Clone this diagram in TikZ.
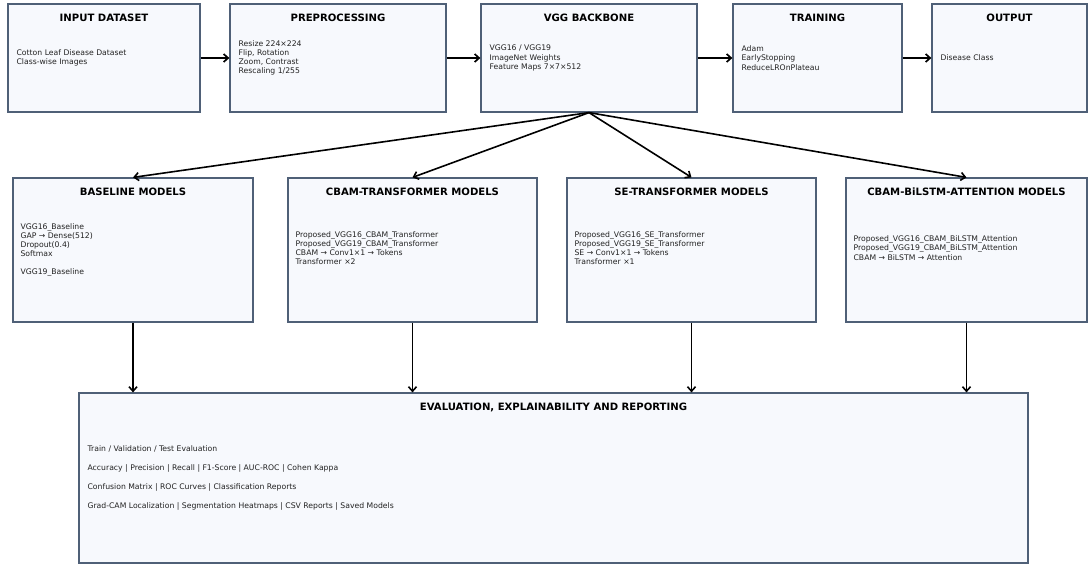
\documentclass[tikz,border=0pt]{standalone}
\usepackage{fontspec}
\setmainfont{DejaVu Sans}
\usetikzlibrary{arrows.meta}
\definecolor{boxfill}{HTML}{F7F9FD}
\definecolor{boxdraw}{HTML}{4F6077}
\definecolor{txt}{HTML}{222222}
\tikzset{
  box/.style={draw=boxdraw, fill=boxfill, line width=1.2pt, rectangle, inner sep=0pt},
  ttl/.style={font=\bfseries\fontsize{10.1}{12}\selectfont, text=black, inner sep=0pt},
  body/.style={font=\fontsize{7.7}{9.2}\selectfont, text=txt, align=left, anchor=west, inner sep=0pt},
  arr/.style={-{Straight Barb[length=4.5pt,width=8pt]}, line width=1.7pt, black},
  farr/.style={-{Straight Barb[length=4.5pt,width=8pt]}, line width=1.6pt, black},
  varr/.style={-{Straight Barb[length=4.5pt,width=8pt]}, line width=1.6pt, black}
}
\begin{document}
\begin{tikzpicture}[x=1pt,y=-1pt]
\useasboundingbox (0,0) rectangle (1089,565);
% top row
\node[box, minimum width=192pt, minimum height=108pt] (in) at (104,58) {};
\node[box, minimum width=216pt, minimum height=108pt] (pre) at (338,58) {};
\node[box, minimum width=216pt, minimum height=108pt] (vgg) at (589,58) {};
\node[box, minimum width=169pt, minimum height=108pt] (tr) at (817.5,58) {};
\node[box, minimum width=155pt, minimum height=108pt] (out) at (1009.5,58) {};
\node[ttl] (inT) at ([yshift=-14pt]in.north) {INPUT DATASET};
\node[ttl] (preT) at ([yshift=-14pt]pre.north) {PREPROCESSING};
\node[ttl] (vggT) at ([yshift=-14pt]vgg.north) {VGG BACKBONE};
\node[ttl] (trT) at ([yshift=-14pt]tr.north) {TRAINING};
\node[ttl] (outT) at ([yshift=-14pt]out.north) {OUTPUT};
\node[body] (inB) at ([xshift=9pt]in.west) {Cotton Leaf Disease Dataset\\Class-wise Images};
\node[body] (preB) at ([xshift=9pt]pre.west) {Resize 224×224\\Flip, Rotation\\Zoom, Contrast\\Rescaling 1/255};
\node[body] (vggB) at ([xshift=9pt]vgg.west) {VGG16 / VGG19\\ImageNet Weights\\Feature Maps 7×7×512};
\node[body] (trB) at ([xshift=9pt]tr.west) {Adam\\EarlyStopping\\ReduceLROnPlateau};
\node[body] (outB) at ([xshift=9pt]out.west) {Disease Class};
\draw[arr] (in) -- (pre);
\draw[arr] (pre) -- (vgg);
\draw[arr] (vgg) -- (tr);
\draw[arr] (tr) -- (out);
% middle row
\node[box, minimum width=240pt, minimum height=144pt] (base) at (133,250) {};
\node[box, minimum width=249pt, minimum height=144pt] (cbt) at (412.5,250) {};
\node[box, minimum width=249pt, minimum height=144pt] (set) at (691.5,250) {};
\node[box, minimum width=241pt, minimum height=144pt] (bil) at (966.5,250) {};
\node[ttl] (baseT) at ([yshift=-14pt]base.north) {BASELINE MODELS};
\node[ttl] (cbtT) at ([yshift=-14pt]cbt.north) {CBAM-TRANSFORMER MODELS};
\node[ttl] (setT) at ([yshift=-14pt]set.north) {SE-TRANSFORMER MODELS};
\node[ttl] (bilT) at ([yshift=-14pt]bil.north) {CBAM-BiLSTM-ATTENTION MODELS};
\node[body] (baseB) at ([xshift=8pt]base.west) {VGG16\_Baseline\\GAP → Dense(512)\\Dropout(0.4)\\Softmax\\[9pt]VGG19\_Baseline};
\node[body] (cbtB) at ([xshift=8pt,yshift=2pt]cbt.west) {Proposed\_VGG16\_CBAM\_Transformer\\Proposed\_VGG19\_CBAM\_Transformer\\CBAM → Conv1×1 → Tokens\\Transformer ×2};
\node[body] (setB) at ([xshift=8pt,yshift=2pt]set.west) {Proposed\_VGG16\_SE\_Transformer\\Proposed\_VGG19\_SE\_Transformer\\SE → Conv1×1 → Tokens\\Transformer ×1};
\node[body] (bilB) at ([xshift=8pt,yshift=2pt]bil.west) {Proposed\_VGG16\_CBAM\_BiLSTM\_Attention\\Proposed\_VGG19\_CBAM\_BiLSTM\_Attention\\CBAM → BiLSTM → Attention};
\coordinate (vs) at (vgg.south);
\draw[farr] (vs) -- (base.north);
\draw[farr] (vs) -- (cbt.north);
\draw[farr] (vs) -- (set.north);
\draw[farr] (vs) -- (bil.north);
% bottom
\node[box, minimum width=949pt, minimum height=170pt] (ev) at (553.5,478) {};
\node[ttl] (evT) at ([yshift=-15pt]ev.north) {EVALUATION, EXPLAINABILITY AND REPORTING};
\node[body] (evB) at ([xshift=9pt]ev.west) {Train / Validation / Test Evaluation\\[9.8pt]Accuracy | Precision | Recall | F1-Score | AUC-ROC | Cohen Kappa\\[9.8pt]Confusion Matrix | ROC Curves | Classification Reports\\[9.8pt]Grad-CAM Localization | Segmentation Heatmaps | CSV Reports | Saved Models};
\draw[varr] (base.south) -- (base.south |- ev.north);
\draw[varr] (cbt.south) -- (cbt.south |- ev.north);
\draw[varr] (set.south) -- (set.south |- ev.north);
\draw[varr] (bil.south) -- (bil.south |- ev.north);
\end{tikzpicture}
\end{document}
